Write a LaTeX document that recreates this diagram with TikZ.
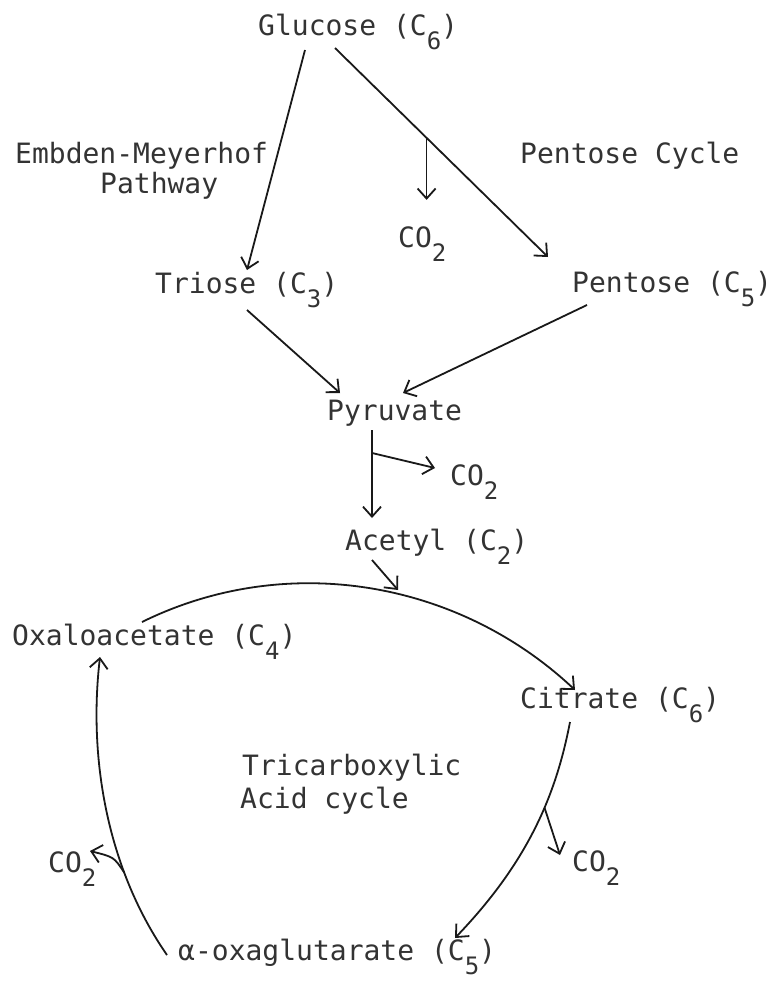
\documentclass[tikz,border=0pt]{standalone}
\usepackage{fontspec}
\newfontfamily\tw{DejaVu Sans Mono}
\usetikzlibrary{arrows.meta,calc}
\newcommand\sbs[1]{\raisebox{-0.5em}{\fontsize{24}{24}\selectfont #1}}
\begin{document}
\begin{tikzpicture}[x=1pt,y=-1pt,
  lbl/.style={anchor=base west, inner sep=0pt, font=\tw\fontsize{28}{34}\selectfont, text=black!80},
  arr/.style={-{Straight Barb[length=10pt,width=18pt,line width=1.8pt]}, line width=1.8pt, draw=black!90}]
\useasboundingbox (0,0) rectangle (784,985);
\fill[white] (0,0) rectangle (784,985);

% labels
\node[lbl] (glu)  at (258,35)  {Glucose (C\sbs{6})};
\node[lbl] (emp1) at (15,163)  {Embden-Meyerhof};
\node[lbl] (emp2) at (100,193) {Pathway};
\node[lbl] (pc)   at (520,163) {Pentose Cycle};
\node[lbl] (co2a) at (398,247) {CO\sbs{2}};
\node[lbl] (tri)  at (155,293) {Triose (C\sbs{3})};
\node[lbl] (pen)  at (572,292) {Pentose (C\sbs{5})};
\node[lbl] (pyr)  at (327,420) {Pyruvate};
\node[lbl] (co2b) at (450,485) {CO\sbs{2}};
\node[lbl] (ace)  at (345,550) {Acetyl (C\sbs{2})};
\node[lbl] (oxa)  at (12,645)  {Oxaloacetate (C\sbs{4})};
\node[lbl] (cit)  at (520,708) {Citrate (C\sbs{6})};
\node[lbl] (tca1) at (242,775) {Tricarboxylic};
\node[lbl] (tca2) at (240,808) {Acid cycle};
\node[lbl] (co2c) at (48,872)  {CO\sbs{2}};
\node[lbl] (co2d) at (572,871) {CO\sbs{2}};
\node[lbl] (akg)  at (178,960) {α-oxaglutarate (C\sbs{5})};

% connector end points
\coordinate (gL) at (305,50);   \coordinate (triT) at (247,270);
\coordinate (gR) at (335,48);   \coordinate (penT) at (548,257);
\coordinate (triB) at (247,310); \coordinate (pyrL) at (340,393);
\coordinate (penB) at (587,305); \coordinate (pyrR) at (403,393);
\coordinate (pyrB) at (372,430); \coordinate (aceT) at (372,518);
\coordinate (pbr)  at (372,453); \coordinate (co2bT) at (435,468);
\coordinate (aceB) at (372,560); \coordinate (arcT) at (398,590);
\coordinate (oxaR) at (142,622); \coordinate (citT) at (575,690);
\coordinate (citB) at (570,722); \coordinate (akgR) at (455,938);
\coordinate (akgL) at (167,955); \coordinate (oxaB) at (100,657);
\coordinate (co2dT) at (560,855); \coordinate (co2cT) at (90,851);

% top part
\draw[arr] (gL) -- (triT);
\draw[arr] (gR) -- (penT);
\coordinate (br1) at ($(gR)!0.43!(penT)$);
\draw[arr] (br1) -- ++(0,62);
\draw[arr] (triB) -- (pyrL);
\draw[arr] (penB) -- (pyrR);
\draw[arr] (pyrB) -- (aceT);
\draw[arr] (pbr) -- (co2bT);
\draw[arr] (aceB) -- (arcT);

% cycle
\draw[arr] (oxaR) .. controls (286,551) and (458,580) .. (citT);
\draw[arr] (citB) .. controls (556,795) and (528,862) .. (akgR) coordinate[pos=0.4] (brR);
\draw[arr] (brR) -- (co2dT);
\draw[arr] (akgL) .. controls (108,870) and (88,760) .. (oxaB) coordinate[pos=0.3] (brL);
\draw[arr] (brL) .. controls (114,857) .. (co2cT);
\end{tikzpicture}
\end{document}
